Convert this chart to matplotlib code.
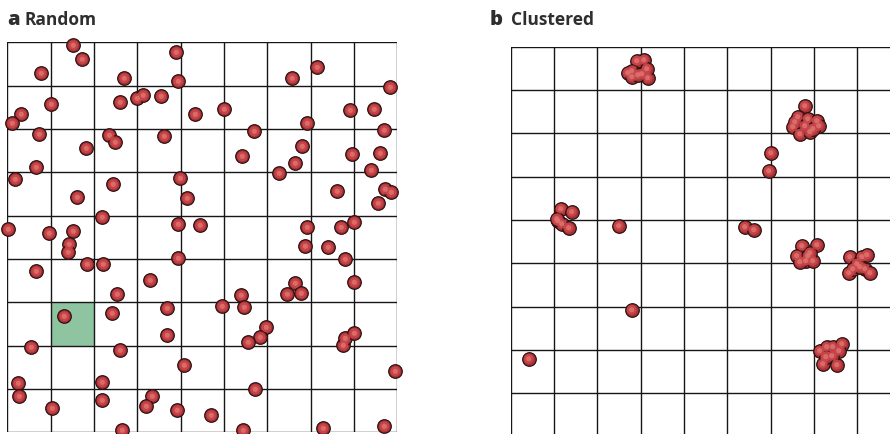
import matplotlib.pyplot as plt
import numpy as np

# Point positions inside a 390 x 390 field (y measured from the top)
random_x = [34, 66, 75, 117, 169, 171, 285, 310, 383, 44, 14, 5, 113, 130, 136, 154,
            188, 217, 343, 367, 300, 377, 32, 102, 108, 157, 247, 79, 295, 235, 345, 373,
            288, 272, 364, 29, 8, 106, 173, 180, 70, 330, 378, 384, 371, 95, 1, 42,
            66, 62, 61, 171, 193, 300, 334, 347, 298, 321, 338, 171, 80, 96, 29, 143,
            288, 347, 110, 234, 280, 294, 160, 215, 237, 105, 57, 160, 259, 253, 241, 336,
            338, 347, 24, 113, 177, 388, 11, 12, 95, 95, 248, 145, 139, 45, 170, 204,
            115, 236, 316, 377]
random_y = [31, 3, 17, 36, 10, 39, 36, 25, 45, 62, 72, 81, 60, 56, 53, 54,
            72, 67, 68, 67, 81, 88, 92, 93, 100, 94, 89, 106, 104, 114, 112, 111,
            121, 131, 128, 125, 137, 142, 136, 156, 155, 149, 147, 150, 161, 175, 187, 191,
            189, 202, 210, 182, 183, 185, 185, 180, 204, 205, 217, 216, 222, 222, 229, 238,
            241, 240, 252, 253, 252, 251, 266, 264, 265, 271, 274, 293, 285, 295, 300, 303,
            296, 291, 305, 308, 323, 329, 341, 354, 340, 358, 347, 354, 364, 366, 368, 373,
            388, 388, 386, 384]

clustered_x = [133, 126, 121, 117, 131, 137, 121, 127, 136,
               294, 287, 282, 289, 297, 306, 308, 299, 294, 284, 302,
               260, 258,
               50, 61, 47, 51, 58, 46,
               108, 234, 243,
               291, 306, 286, 297, 295, 289, 302, 299,
               339, 351, 356, 338, 354, 359, 346, 342, 349,
               309, 316, 322, 331, 328, 312, 326, 321, 315,
               121, 18]
clustered_y = [13, 14, 24, 26, 27, 31, 30, 28, 22,
               59, 70, 80, 87, 72, 74, 79, 85, 79, 75, 82,
               106, 124,
               162, 165, 174, 177, 181, 172,
               179, 180, 183,
               199, 198, 209, 209, 214, 215, 214, 206,
               210, 210, 208, 226, 222, 226, 217, 222, 220,
               304, 300, 300, 297, 304, 317, 318, 309, 310,
               263, 312]

field_size = 390
n_cells = 9
highlight_cell = (1, 6)  # column, row (from top)

fig = plt.figure(figsize=(8.9, 4.35), dpi=100)
ax_a = fig.add_axes([7.3 / 890, 1.7 / 435, 390 / 890, 390 / 435])
ax_b = fig.add_axes([510.7 / 890, -2.7 / 435, 390 / 890, 390 / 435])

cell = field_size / n_cells


def draw_field(ax, xs, ys):
    ax.set_xlim(0, field_size)
    ax.set_ylim(field_size, 0)
    ax.axis('off')
    for k in range(n_cells + 1):
        ax.axvline(k * cell, color='#161616', lw=1.0, zorder=2)
        ax.axhline(k * cell, color='#161616', lw=1.0, zorder=2)
    # shaded balls: dark rim, red body, lighter core
    ax.scatter(xs, ys, s=95, facecolor='#ab2f34', edgecolor='#2a1212',
               linewidth=0.9, zorder=3, clip_on=False)
    ax.scatter(xs, ys, s=50, facecolor='#c8474b', edgecolor='none',
               alpha=0.9, zorder=4, clip_on=False)
    ax.scatter(xs, ys, s=14, facecolor='#e07672', edgecolor='none',
               alpha=0.8, zorder=5, clip_on=False)


draw_field(ax_a, random_x, random_y)
col, row = highlight_cell
ax_a.add_patch(plt.Rectangle((col * cell, row * cell), cell, cell,
                             facecolor='#8fc4a0', edgecolor='none', zorder=1))
draw_field(ax_b, clustered_x, clustered_y)

title_font = dict(family='Open Sans', color='#2e2e2e', va='center')
fig.text(7 / 890, 1 - 20 / 435, 'a', fontsize=14.5, fontweight='heavy', **title_font)
fig.text(25 / 890, 1 - 20 / 435, 'Random', fontsize=12.5, fontweight='bold', **title_font)
fig.text(490 / 890, 1 - 20 / 435, 'b', fontsize=14.5, fontweight='heavy', **title_font)
fig.text(511 / 890, 1 - 20 / 435, 'Clustered', fontsize=12.5, fontweight='bold', **title_font)

fig.savefig('out.png', dpi=100)
